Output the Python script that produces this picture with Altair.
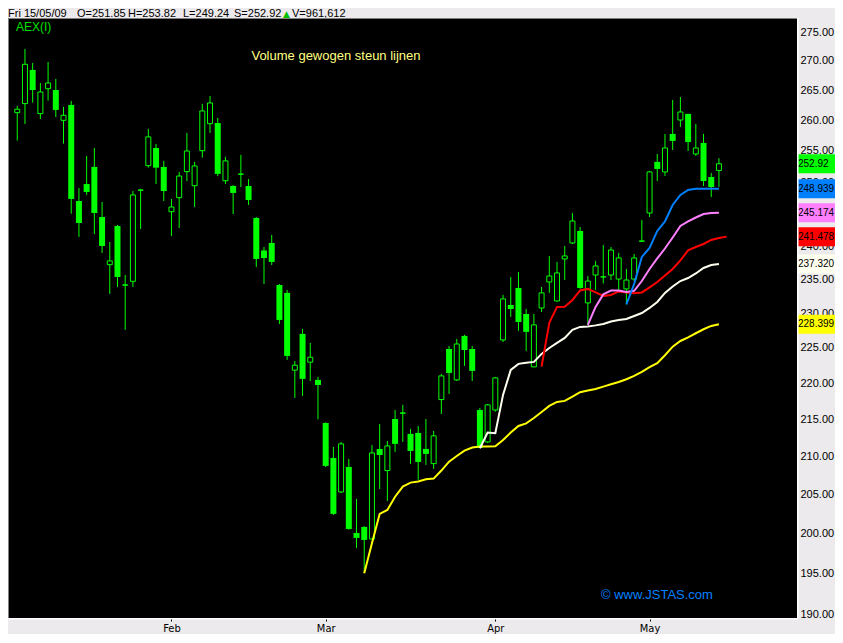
import altair as alt
import pandas as pd

# ---------------- data ----------------
jan = [5, 6, 7, 8, 9, 12, 13, 14, 15, 16, 19, 20, 21, 22, 23, 26, 27, 28, 29, 30]
feb = [2, 3, 4, 5, 6, 9, 10, 11, 12, 13, 16, 17, 18, 19, 20, 23, 24, 25, 26, 27]
mar = [2, 3, 4, 5, 6, 9, 10, 11, 12, 13, 16, 17, 18, 19, 20, 23, 24, 25, 26, 27, 30, 31]
apr = [1, 2, 3, 6, 7, 8, 9, 14, 15, 16, 17, 20, 21, 22, 23, 24, 27, 28, 29, 30]
may = [4, 5, 6, 7, 8, 11, 12, 13, 14, 15]
month_names = ["Jan", "Feb", "Mar", "Apr", "May"]

opens = [261.27, 262.77, 268.45, 261.10, 265.27, 265.05, 260.00, 262.55, 247.01, 249.68,
         252.41, 244.51, 237.22, 243.12, 234.13, 234.72, 248.69, 252.62, 255.47, 252.41,
         245.33, 247.53, 251.66, 249.42, 255.03, 259.44, 259.56, 250.21, 249.37, 251.24,
         249.37, 244.35, 239.35, 240.51, 234.17, 233.00, 221.84, 227.01, 222.97, 220.47,
         214.52, 209.80, 205.32, 208.61, 200.04, 200.81, 199.28, 211.01, 208.13, 215.06,
         215.84, 213.04, 213.17, 211.01, 209.05, 217.73, 224.84, 220.47, 226.72, 224.84,
         216.30, 211.95, 216.30, 226.14, 231.22, 233.73, 229.90, 222.30, 230.78, 234.62,
         231.81, 238.08, 240.51, 242.35, 231.52, 235.66, 235.36, 235.66, 235.06, 233.59,
         235.06, 240.77, 245.13, 253.22, 251.61, 257.76, 260.05, 261.05, 254.50, 256.29,
         250.80, 251.85]
highs = [262.38, 272.06, 269.64, 266.24, 269.81, 266.92, 262.22, 263.22, 249.06, 254.18,
         255.47, 246.85, 240.66, 243.28, 235.66, 248.58, 248.90, 258.58, 256.13, 253.38,
         247.33, 251.61, 257.92, 253.22, 262.72, 264.05, 260.38, 254.02, 249.53, 254.34,
         250.48, 244.51, 239.89, 241.74, 234.32, 233.44, 223.15, 227.73, 225.71, 220.89,
         214.60, 211.28, 211.95, 209.67, 204.41, 200.90, 211.55, 214.38, 212.09, 216.30,
         217.00, 213.71, 214.11, 215.06, 213.44, 221.31, 225.27, 226.29, 226.87, 225.27,
         216.58, 217.13, 220.89, 232.70, 235.36, 236.12, 230.63, 229.90, 233.88, 238.53,
         237.63, 240.05, 245.13, 242.97, 235.51, 237.78, 240.20, 239.89, 238.99, 236.57,
         238.84, 244.05, 251.77, 254.50, 257.76, 263.38, 263.88, 261.10, 259.40, 257.76,
         251.45, 253.82]
lows = [256.67, 259.40, 262.93, 260.22, 263.27, 260.55, 256.18, 245.02, 241.43, 247.96,
        241.89, 238.99, 232.85, 233.88, 227.59, 233.88, 242.66, 252.30, 249.69, 247.01,
        241.58, 242.81, 250.16, 246.07, 253.91, 257.92, 250.96, 249.69, 244.97, 249.21,
        246.38, 236.87, 234.32, 237.17, 228.45, 223.29, 217.96, 218.24, 220.32, 215.01,
        208.60, 202.35, 205.18, 200.45, 198.15, 194.99, 199.20, 205.71, 204.15, 210.61,
        211.95, 209.01, 206.90, 208.88, 208.35, 215.75, 218.52, 220.32, 222.44, 220.32,
        211.10, 211.80, 216.06, 225.85, 229.47, 227.44, 224.56, 222.35, 230.19, 233.00,
        231.70, 234.91, 240.35, 233.60, 228.31, 233.44, 234.40, 234.91, 233.44, 231.30,
        234.76, 240.74, 244.51, 250.16, 250.96, 255.15, 258.91, 254.98, 254.18, 249.37,
        247.64, 249.24]
closes = [261.83, 269.42, 265.05, 264.72, 266.24, 261.72, 260.83, 247.33, 243.58, 248.43,
          245.13, 240.05, 237.78, 235.36, 234.20, 247.96, 248.75, 257.27, 252.30, 248.58,
          246.07, 250.96, 254.98, 252.57, 261.55, 262.88, 251.29, 253.38, 248.27, 251.28,
          247.17, 238.08, 238.23, 237.63, 229.03, 223.85, 222.54, 220.61, 223.67, 219.76,
          208.75, 202.48, 211.69, 200.55, 199.41, 199.16, 210.47, 210.20, 211.41, 211.69,
          215.90, 210.74, 209.27, 210.34, 212.77, 221.03, 221.45, 225.56, 224.70, 221.74,
          211.15, 217.00, 220.75, 232.11, 230.63, 228.74, 227.30, 228.31, 233.00, 235.51,
          235.97, 238.53, 243.89, 233.73, 234.76, 237.02, 235.40, 239.43, 238.23, 234.91,
          238.23, 240.82, 251.61, 252.09, 255.47, 256.62, 261.38, 256.45, 255.47, 250.16,
          249.21, 252.92]

# volume weighted support lines: (start month, start day) and values from there on
yellow_start = (3, 9)
yellow_vals = [194.99, 198.74, 202.48, 202.99, 204.70, 206.02, 206.54, 206.68, 206.99, 207.07,
               208.13, 209.31, 210.07, 210.78, 211.19, 211.32, 211.32, 211.37, 212.22, 213.21,
               214.11, 214.47, 215.19, 216.02, 216.86, 217.41, 217.55, 218.15, 218.76, 218.98,
               219.21, 219.53, 219.86, 220.18, 220.56, 221.03, 221.60, 222.26, 222.82, 223.95,
               225.17, 225.99, 226.52, 227.10, 227.68, 228.16, 228.399]
white_start = (3, 30)
white_vals = [211.10, 213.21, 213.13, 218.38, 221.88, 222.73, 222.87, 223.01, 224.14, 224.99,
              225.71, 226.43, 227.59, 228.02, 228.09, 228.24, 228.45, 228.81, 229.03, 229.18,
              229.61, 230.04, 230.78, 231.66, 233.00, 233.95, 234.76, 235.21, 235.89, 236.72,
              237.17, 237.320]
red_start = (4, 9)
red_vals = [222.35, 228.60, 230.93, 230.97, 231.96, 233.36, 233.59, 233.07, 232.55, 232.70,
            233.22, 233.07, 232.95, 233.07, 233.81, 234.62, 235.59, 236.57, 237.86, 239.37,
            239.89, 240.35, 240.97, 241.28, 241.478]
pink_start = (4, 21)
pink_vals = [228.31, 230.93, 232.78, 233.35, 233.35, 233.15, 233.30, 234.76, 236.57, 238.16,
             239.66, 241.35, 243.12, 243.82, 244.43, 244.97, 245.12, 245.174]
blue_start = (4, 28)
blue_vals = [231.30, 234.32, 238.38, 239.74, 242.35, 243.82, 246.38, 247.96, 248.74, 248.94,
             248.94, 248.94, 248.939]

last_values = [252.92, 248.939, 245.174, 241.478, 237.320, 228.399]
last_labels = ["252.92", "248.939", "245.174", "241.478", "237.320", "228.399"]
# 245.00 sits fully under the value boxes in the reference
y_ticks = [190, 195, 200, 205, 210, 215, 220, 225, 230, 235, 240, 250, 255, 260, 265, 270, 275]

header_texts = ["Fri 15/05/09", "O=251.85", "H=253.82", "L=249.24", "S=252.92", "V=961,612"]
symbol_label = "AEX(I)"
title_text = "Volume gewogen steun lijnen"
credit_text = "© www.JSTAS.com"

# ---------------- styling ----------------
GREEN = "#00FF00"
YELLOW = "#FFFF00"
IVORY = "#FFFFF0"
RED = "#FF0000"
PINK = "#FF80FF"
BLUE = "#0080FF"
BG = "#ECEAEC"
FONT = "Liberation Sans, Arial, sans-serif"
NARROW = "Liberation Sans Narrow, DejaVu Sans Condensed, Arial Narrow, sans-serif"
box_colors = [GREEN, BLUE, PINK, RED, IVORY, YELLOW]

W, H = 789, 600

# ---------------- tables ----------------
trading_days = [(m + 1, d) for m, days in enumerate([jan, feb, mar, apr, may]) for d in days]
pos = {md: i for i, md in enumerate(trading_days)}

cdf = pd.DataFrame({
    "idx": list(range(len(trading_days))),
    "open": opens, "high": highs, "low": lows, "close": closes,
})

month_idx, month_lab = [], []
for i, (m, d) in enumerate(trading_days):
    if i > 0 and trading_days[i - 1][0] != m:
        month_idx.append(i)
        month_lab.append(month_names[m - 1])
label_expr = " : ".join(f"datum.value == {v} ? '{n}'" for v, n in zip(month_idx, month_lab)) + " : ''"


def series_df(start, vals):
    s = pos[start]
    return pd.DataFrame({"idx": list(range(s, s + len(vals))), "value": vals})


xscale = alt.Scale(domain=[-0.5506, 100.474], nice=False, zero=False)
yscale = alt.Scale(type="log", domain=[189.52, 277.46], nice=False, zero=False)

xaxis = alt.Axis(values=month_idx, labelExpr=label_expr, grid=False, domain=False,
                 tickSize=3, tickColor="#000000", labelColor="#000000", labelFont=NARROW,
                 labelFontSize=11, labelPadding=1, title=None, labelFlush=False,
                 labelOverlap=False)
yaxis = alt.Axis(orient="right", values=y_ticks, format=".2f", grid=False, domain=False,
                 ticks=False, labelPadding=3, labelFontSize=11, labelFont=FONT,
                 labelColor="#000000", title=None, labelOverlap=False)


def X(field):
    return alt.X(field, scale=xscale, axis=xaxis)


def Y(field):
    return alt.Y(field, scale=yscale, axis=yaxis)


wick = alt.Chart(cdf).mark_rule(color=GREEN, strokeWidth=1).encode(
    x=X("idx:Q"), y=Y("low:Q"), y2="high:Q",
)
up = alt.Chart(cdf).transform_filter("datum.close >= datum.open").mark_bar(
    width=5, fill="#000000", stroke=GREEN, strokeWidth=1
).encode(x=X("idx:Q"), y=Y("open:Q"), y2="close:Q")
down = alt.Chart(cdf).transform_filter("datum.close < datum.open").mark_bar(
    width=6, color=GREEN
).encode(x=X("idx:Q"), y=Y("open:Q"), y2="close:Q")


def line_layer(start, vals, color):
    return alt.Chart(series_df(start, vals)).mark_line(color=color, strokeWidth=2).encode(
        x=X("idx:Q"), y=Y("value:Q"),
    )


lines = [
    line_layer(yellow_start, yellow_vals, YELLOW),
    line_layer(white_start, white_vals, IVORY),
    line_layer(red_start, red_vals, RED),
    line_layer(pink_start, pink_vals, PINK),
    line_layer(blue_start, blue_vals, BLUE),
]

bdf = pd.DataFrame({"value": last_values, "label": last_labels, "color": box_colors})
box_shape = "M-1,-0.5L1,-0.5L1,0.5L-1,0.5Z"
boxes = alt.Chart(bdf).mark_point(shape=box_shape, size=1444, filled=True, opacity=1,
                                  strokeWidth=0).encode(
    x=alt.value(809),
    y=Y("value:Q"),
    color=alt.Color("color:N", scale=None),
)
box_text = alt.Chart(bdf).mark_text(align="left", baseline="middle", font=FONT, fontSize=10,
                                    color="#000000").encode(
    x=alt.value(790),
    y=Y("value:Q"),
    text="label:N",
)


def text_layer(txt, x, y, color, size, align="left", baseline="middle", font=FONT):
    return alt.Chart(pd.DataFrame({"t": [txt]})).mark_text(
        align=align, baseline=baseline, color=color, fontSize=size, font=font
    ).encode(x=alt.value(x), y=alt.value(y), text="t:N")


header_x = [0, 69, 120, 175, 226, 284]
header = [text_layer(t, hx, -1, "#000000", 11, baseline="alphabetic")
          for t, hx in zip(header_texts, header_x)]
triangle = text_layer("▲", 275, -1, "#00C000", 9, baseline="alphabetic",
                      font="DejaVu Sans, sans-serif")

sym = text_layer(symbol_label, 8, 9, "#00E000", 12)
title = text_layer(title_text, 328, 38, "#FFFF80", 13, align="center")
credit = text_layer(credit_text, 593, 577, BLUE, 13)

one = pd.DataFrame({"a": [0]})
border_left = alt.Chart(one).mark_rule(color="#808080", strokeWidth=1).encode(
    x=alt.value(0.5), y=alt.value(0), y2=alt.value(H))
border_top = alt.Chart(one).mark_rule(color="#808080", strokeWidth=1).encode(
    x=alt.value(0), x2=alt.value(W), y=alt.value(0.5))
border_bottom = alt.Chart(one).mark_rule(color="#FFFFFF", strokeWidth=1.5).encode(
    x=alt.value(0), x2=alt.value(W + 1), y=alt.value(H + 0.75))
border_right = alt.Chart(one).mark_rule(color="#FFFFFF", strokeWidth=1.5).encode(
    x=alt.value(W + 0.75), y=alt.value(0), y2=alt.value(H + 1))

chart = alt.layer(
    wick, up, down, *lines, boxes, box_text, *header, triangle, sym, title, credit,
    border_left, border_top, border_bottom, border_right,
).properties(
    width=W, height=H, background=BG,
    autosize=alt.AutoSizeParams(type="none"),
    padding={"left": 0, "top": 10, "right": 38, "bottom": 16},
).configure_view(fill="#000000", stroke="#000000", strokeWidth=0)

chart.save("out.html", embed_options={"renderer": "svg", "actions": False})
